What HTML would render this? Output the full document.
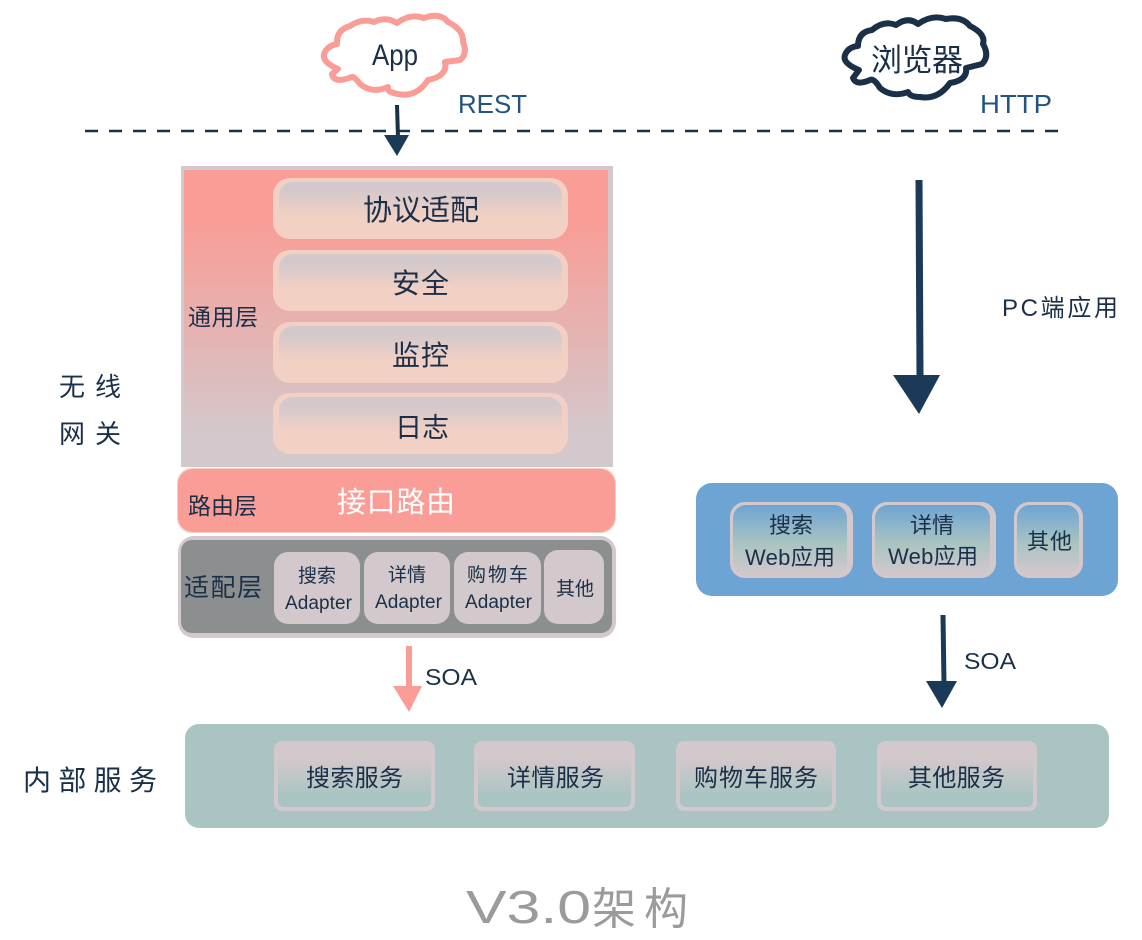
<!DOCTYPE html>
<html lang="zh"><head><meta charset="utf-8"><title>V3.0架构</title>
<style>
html,body{margin:0;padding:0;background:#fff}
svg{display:block}
text{font-family:"Liberation Sans","WenQuanYi Zen Hei","Noto Sans CJK SC",sans-serif;fill:#1a3048}
</style></head><body>
<svg width="1142" height="940" viewBox="0 0 1142 940" xmlns="http://www.w3.org/2000/svg">
<defs>
<linearGradient id="gTop" x1="0" y1="0" x2="0" y2="1">
<stop offset="0.18" stop-color="#f99d96"/><stop offset="0.9" stop-color="#d3c8cc"/></linearGradient>
<linearGradient id="gRow" x1="0" y1="0" x2="0" y2="1">
<stop offset="0.15" stop-color="#d3c8cc"/><stop offset="0.7" stop-color="#f2d0c4"/></linearGradient>
<linearGradient id="gWeb" x1="0" y1="0" x2="0" y2="1">
<stop offset="0" stop-color="#6ea4d3"/><stop offset="0.55" stop-color="#a9c4c2"/><stop offset="1" stop-color="#d3c8cc"/></linearGradient>
<linearGradient id="gSvc" x1="0" y1="0" x2="0" y2="1">
<stop offset="0.2" stop-color="#d3c8cc"/><stop offset="0.85" stop-color="#a9c4c2"/></linearGradient>
</defs>
<rect width="1142" height="940" fill="#fff"/>

<!-- clouds -->
<path d="M338 69 Q322 62 324 54 Q327 46 337 44 Q336 30 350 26 Q362 18 374 22 Q386 16 397 23 Q410 13 424 18 Q440 12 448 22 Q464 30 463 42 Q468 54 460 60 L445 62 Q448 76 428 80 Q416 98 398 94 Q386 92 388 87 Q372 94 360 84 Q354 76 352 77 Q334 84 332 74 Z" fill="#fff" stroke="#f99d96" stroke-width="6" stroke-linejoin="round"/>
<path d="M859 70 Q842 63 845 55 Q848 47 858 46 Q858 32 872 30 Q884 20 896 25 Q908 16 918 24 Q932 14 946 19 Q962 16 970 26 Q986 34 983 44 Q990 56 982 64 L966 68 Q968 80 950 83 Q938 100 920 97 Q910 97 908 92 Q892 98 880 88 Q874 78 870 80 Q856 86 853 78 Z" fill="#fff" stroke="#1a3048" stroke-width="6" stroke-linejoin="round"/>
<text x="372" y="65" font-size="30" textLength="46" lengthAdjust="spacingAndGlyphs">App</text>
<text x="871" y="71" font-size="31" textLength="92">浏览器</text>
<text x="458" y="113" font-size="26" textLength="69" lengthAdjust="spacingAndGlyphs" style="fill:#24537f">REST</text>
<text x="980" y="113" font-size="26" textLength="72" lengthAdjust="spacingAndGlyphs" style="fill:#24537f">HTTP</text>

<!-- dashed -->
<line x1="85" y1="131" x2="1058" y2="131" stroke="#1a3048" stroke-width="2.5" stroke-dasharray="13 11"/>

<!-- arrows -->
<line x1="397" y1="105" x2="398" y2="137" stroke="#1a3048" stroke-width="4"/>
<polygon points="384,135 409,135 397,156" fill="#1a3a58"/>
<line x1="919" y1="180" x2="920" y2="376" stroke="#1a3a58" stroke-width="7"/>
<polygon points="893,375 940,375 919,414" fill="#1a3a58"/>
<line x1="409" y1="646" x2="409" y2="690" stroke="#f99d96" stroke-width="6"/>
<polygon points="393,686 422,686 409,712" fill="#f99d96"/>
<line x1="943" y1="615" x2="944" y2="684" stroke="#1a3a58" stroke-width="5"/>
<polygon points="926,681 957,681 942,708" fill="#1a3a58"/>
<text x="425" y="685" font-size="23" textLength="52" lengthAdjust="spacingAndGlyphs">SOA</text>
<text x="964" y="669" font-size="23" textLength="52" lengthAdjust="spacingAndGlyphs">SOA</text>

<!-- top block -->
<rect x="181" y="166" width="432" height="301" fill="#d3c8cc"/>
<rect x="184" y="170" width="424" height="294" fill="url(#gTop)"/>
<rect x="273" y="178" width="295" height="61" rx="17" fill="#f2d0c4"/><rect x="279" y="182" width="283" height="50" rx="14" fill="url(#gRow)"/>
<rect x="273" y="250" width="295" height="61" rx="17" fill="#f2d0c4"/><rect x="279" y="254" width="283" height="50" rx="14" fill="url(#gRow)"/>
<rect x="273" y="322" width="295" height="61" rx="17" fill="#f2d0c4"/><rect x="279" y="326" width="283" height="50" rx="14" fill="url(#gRow)"/>
<rect x="273" y="393" width="295" height="61" rx="17" fill="#f2d0c4"/><rect x="279" y="397" width="283" height="50" rx="14" fill="url(#gRow)"/>
<text x="363" y="220" font-size="29" textLength="116">协议适配</text>
<text x="392" y="293" font-size="28" textLength="57">安全</text>
<text x="392" y="365" font-size="28" textLength="57">监控</text>
<text x="395" y="437" font-size="27" textLength="54">日志</text>
<text x="188" y="325" font-size="23" textLength="70">通用层</text>

<!-- route -->
<rect x="177" y="468" width="439" height="65" rx="15" fill="#f2d0c4"/>
<rect x="178" y="469" width="437" height="63" rx="15" fill="#f99d96"/>
<text x="337" y="512" font-size="29" textLength="118" style="fill:#fff">接口路由</text>
<text x="188" y="514" font-size="23" textLength="69">路由层</text>

<!-- adapter -->
<rect x="178" y="536" width="438" height="102" rx="16" fill="#d3c8cc"/>
<rect x="181" y="540" width="431" height="93" rx="11" fill="#8c8f8f"/>
<rect x="274" y="552" width="86" height="72" rx="14" fill="#d3c8cc"/>
<rect x="364" y="552" width="86" height="72" rx="14" fill="#d3c8cc"/>
<rect x="454" y="552" width="87" height="72" rx="14" fill="#d3c8cc"/>
<rect x="544" y="550" width="60" height="74" rx="14" fill="#d3c8cc"/>
<text x="184" y="596" font-size="25" textLength="78">适配层</text>
<text x="298" y="582" font-size="19" textLength="38">搜索</text>
<text x="388" y="581" font-size="19" textLength="38">详情</text>
<text x="467" y="581" font-size="19" textLength="61">购物车</text>
<text x="556" y="595" font-size="19" textLength="38">其他</text>
<text x="285" y="609" font-size="19" textLength="67">Adapter</text>
<text x="375" y="608" font-size="19" textLength="67">Adapter</text>
<text x="465" y="608" font-size="19" textLength="67">Adapter</text>

<!-- left labels -->
<text x="59" y="396" font-size="26" textLength="62">无线</text>
<text x="59" y="443" font-size="26" textLength="62">网关</text>
<text x="23" y="790" font-size="28" textLength="134">内部服务</text>

<!-- right -->
<text x="1002" y="316" font-size="24" textLength="116">PC端应用</text>
<rect x="696" y="483" width="422" height="113" rx="16" fill="#6ea4d3"/>
<rect x="730" y="502" width="123" height="76" rx="15" fill="#d3c8cc"/><rect x="733" y="505" width="114" height="70" rx="13" fill="url(#gWeb)"/>
<rect x="872" y="502" width="124" height="76" rx="15" fill="#d3c8cc"/><rect x="875" y="505" width="115" height="70" rx="13" fill="url(#gWeb)"/>
<rect x="1014" y="502" width="69" height="76" rx="15" fill="#d3c8cc"/><rect x="1017" y="505" width="62" height="70" rx="13" fill="url(#gWeb)"/>
<text x="769" y="533" font-size="22" textLength="44">搜索</text>
<text x="910" y="533" font-size="22" textLength="44">详情</text>
<text x="1027" y="549" font-size="22" textLength="45">其他</text>
<text x="745" y="565" font-size="22" textLength="90">Web应用</text>
<text x="888" y="564" font-size="22" textLength="90">Web应用</text>

<!-- services -->
<rect x="185" y="724" width="924" height="104" rx="14" fill="#a9c4c2"/>
<g fill="#d3c8cc">
<rect x="274" y="741" width="161" height="70" rx="8"/><rect x="474" y="741" width="161" height="70" rx="8"/>
<rect x="676" y="741" width="160" height="70" rx="8"/><rect x="877" y="741" width="160" height="70" rx="8"/>
</g>
<g fill="url(#gSvc)">
<rect x="278" y="745" width="153" height="62" rx="6"/><rect x="478" y="745" width="153" height="62" rx="6"/>
<rect x="680" y="745" width="152" height="62" rx="6"/><rect x="881" y="745" width="152" height="62" rx="6"/>
</g>
<text x="306" y="786" font-size="24" textLength="97">搜索服务</text>
<text x="507" y="786" font-size="24" textLength="97">详情服务</text>
<text x="694" y="786" font-size="24" textLength="124">购物车服务</text>
<text x="908" y="786" font-size="24" textLength="97">其他服务</text>

<!-- title -->
<text x="466" y="923" font-size="46" textLength="125" lengthAdjust="spacingAndGlyphs" style="fill:#9a9c9c">V3.0</text>
<text x="592" y="924" font-size="44" textLength="96" style="fill:#9a9c9c">架构</text>
</svg>
</body></html>
